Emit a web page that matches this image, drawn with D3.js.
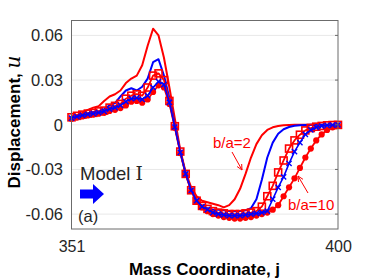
<!DOCTYPE html>
<html>
<head>
<meta charset="utf-8">
<script src="https://cdn.jsdelivr.net/npm/d3@7"></script>
<style>
  body { margin: 0; background: #fff; }
  svg { display: block; font-family: "Liberation Sans", Arial, sans-serif; }
</style>
</head>
<body>
<svg id="chart" width="374" height="280"></svg>
<script>
// mass coordinate j
const massJ = d3.range(351, 401);

// displacement u for each series
const ba2Solid = [0.0055,0.0065,0.008,0.010,0.0115,0.0125,0.016,0.019,0.0205,0.023,
  0.028,0.031,0.033,0.040,0.053,0.0645,0.060,0.045,0.025,0.004,
  -0.017,-0.032,-0.042,-0.048,-0.051,-0.052,-0.053,-0.054,-0.0555,-0.054,
  -0.050,-0.043,-0.033,-0.022,-0.013,-0.007,-0.0035,-0.0017,-0.0008,-0.0003,
  -0.0001,0,0,0,0,0,0,0,0,0];
const blueSolid = [0.005,0.0058,0.0068,0.0078,0.0085,0.009,0.0105,0.013,0.0145,0.019,
  0.023,0.0245,0.023,0.0255,0.031,0.042,0.044,0.033,0.018,0.0,
  -0.018,-0.033,-0.044,-0.051,-0.0545,-0.056,-0.057,-0.057,-0.0575,-0.058,
  -0.058,-0.058,-0.0575,-0.056,-0.050,-0.037,-0.022,-0.012,-0.006,-0.003,
  -0.0015,-0.0007,-0.0003,-0.0001,0,0,0,0,0,0];
const redSquares = [0.005,0.006,0.0068,0.0075,0.008,0.009,0.0095,0.0115,0.0127,0.014,
  0.0175,0.0195,0.0205,0.0195,0.025,0.033,0.0345,0.030,0.016,-0.001,
  -0.018,-0.033,-0.044,-0.051,-0.0545,-0.0565,-0.058,-0.059,-0.0595,-0.060,
  -0.060,-0.060,-0.0595,-0.059,-0.058,-0.055,-0.048,-0.041,-0.032,-0.024,
  -0.016,-0.0105,-0.0067,-0.0038,-0.0022,-0.0013,-0.0008,-0.0004,-0.0002,-0.0001];
const blueCross = [0.0045,0.0055,0.0063,0.007,0.0075,0.0082,0.009,0.0105,0.0115,0.013,
  0.0155,0.0175,0.018,0.017,0.0195,0.025,0.029,0.027,0.015,-0.0015,
  -0.0185,-0.033,-0.044,-0.051,-0.055,-0.057,-0.059,-0.060,-0.0605,-0.061,
  -0.061,-0.061,-0.0605,-0.060,-0.0595,-0.059,-0.058,-0.050,-0.042,-0.035,
  -0.026,-0.018,-0.012,-0.0065,-0.0035,-0.0018,-0.0009,-0.0004,-0.0002,-0.0001];
const ba10Circles = [0.004,0.0048,0.0056,0.0062,0.0068,0.0074,0.008,0.0093,0.010,0.0112,
  0.013,0.0155,0.016,0.0148,0.017,0.022,0.0265,0.025,0.014,-0.002,
  -0.019,-0.0335,-0.0445,-0.0515,-0.0555,-0.058,-0.060,-0.061,-0.062,-0.0625,
  -0.063,-0.063,-0.0625,-0.062,-0.061,-0.060,-0.059,-0.057,-0.054,-0.048,
  -0.042,-0.036,-0.029,-0.022,-0.016,-0.0105,-0.0065,-0.0035,-0.0017,-0.0006];

const yTicks = [-0.06,-0.03,0,0.03,0.06];
const yTickLabels = ["-0.06","-0.03","0","0.03","0.06"];
const xTicks = [351,400];

const chart = d3.select("#chart");
const margin = {left:71.5, right:36, top:20.5, bottom:51};
const width = 374, height = 280;

let x = d3.scaleLinear().domain([351,400]).range([margin.left, width - margin.right]);
let y = d3.scaleLinear().domain([-0.07,0.07]).range([height - margin.bottom, margin.top]);

// grid
chart.append("g").selectAll("line").data(yTicks).enter().append("line")
  .attr("x1", x(351)).attr("x2", x(400))
  .attr("y1", d => y(d)).attr("y2", d => y(d))
  .attr("stroke", "#e8e8e8").attr("stroke-width", 1);

const series = [
  {vals: ba2Solid, color: "red", w: 2},
  {vals: blueSolid, color: "blue", w: 2},
  {vals: ba10Circles, color: "red", w: 1.8, mark: "circle"},
  {vals: redSquares, color: "red", w: 1.8, mark: "square"},
  {vals: blueCross, color: "blue", w: 1.6, mark: "cross"}
];

const line = d3.line().x((d,i) => x(massJ[i])).y(d => y(d));
const plot = chart.append("g");

series.forEach(s => {
  plot.append("path").datum(s.vals)
    .attr("d", line).attr("fill", "none")
    .attr("stroke", s.color).attr("stroke-width", s.w).attr("stroke-linejoin", "round");
  if (s.mark === "circle") {
    plot.append("g").selectAll("circle").data(s.vals).enter().append("circle")
      .attr("cx", (d,i) => x(massJ[i])).attr("cy", d => y(d)).attr("r", 3.1)
      .attr("fill", s.color);
  } else if (s.mark === "square") {
    plot.append("g").selectAll("rect").data(s.vals).enter().append("rect")
      .attr("x", (d,i) => x(massJ[i]) - 3.5).attr("y", d => y(d) - 3.5)
      .attr("width", 7).attr("height", 7)
      .attr("fill", "none").attr("stroke", s.color).attr("stroke-width", 1.6);
  } else if (s.mark === "cross") {
    plot.append("g").selectAll("path").data(s.vals).enter().append("path")
      .attr("d", (d,i) => {
        let cx = x(massJ[i]), cy = y(d), r = 2.6;
        return `M${cx-r},${cy-r}L${cx+r},${cy+r}M${cx-r},${cy+r}L${cx+r},${cy-r}`;
      })
      .attr("stroke", s.color).attr("stroke-width", 1.4).attr("fill", "none");
  }
});

// box
const axisColor = "#6b6b6b";
chart.append("rect")
  .attr("x", x(351)).attr("y", y(0.07))
  .attr("width", x(400) - x(351)).attr("height", y(-0.07) - y(0.07))
  .attr("fill", "none").attr("stroke", axisColor).attr("stroke-width", 1);

// right inward ticks
chart.append("g").selectAll("line").data(yTicks).enter().append("line")
  .attr("x1", x(400) - 3).attr("x2", x(400))
  .attr("y1", d => y(d)).attr("y2", d => y(d))
  .attr("stroke", axisColor);

// y axis
let yAxis = d3.axisLeft(y).tickValues(yTicks)
  .tickFormat((d,i) => yTickLabels[i]).tickSize(0).tickPadding(8.5);
let yg = chart.append("g").attr("transform", `translate(${x(351)},0)`).call(yAxis);
yg.select(".domain").remove();
yg.selectAll("text").style("font-size", "16.5px").attr("fill", "#262626");

// x axis
let xAxis = d3.axisBottom(x).tickValues(xTicks).tickFormat(d3.format("d")).tickSize(0);
let xg = chart.append("g").attr("transform", `translate(0,${y(-0.07)})`).call(xAxis);
xg.select(".domain").remove();
xg.selectAll("text").attr("y", 23).attr("dy", 0)
  .style("font-size", "16px").attr("fill", "#262626");

// axis labels
chart.append("text")
  .attr("x", 204.5).attr("y", 275)
  .attr("text-anchor", "middle")
  .style("font-weight", "bold").style("font-size", "17px")
  .text("Mass Coordinate, j");

let yl = chart.append("text")
  .attr("transform", "rotate(-90)")
  .attr("x", -122).attr("y", 20)
  .attr("text-anchor", "middle")
  .style("font-weight", "bold").style("font-size", "17px");
yl.append("tspan").text("Displacement, ");
yl.append("tspan").text("u")
  .style("font-family", "'DejaVu Serif', serif").style("font-style", "italic")
  .style("font-weight", "normal").style("font-size", "20px");

// annotations
const red = "red";
chart.append("text").attr("x", 213).attr("y", 148)
  .attr("fill", red).style("font-size", "15px").text("b/a=2");
chart.append("text").attr("x", 288).attr("y", 210)
  .attr("fill", red).style("font-size", "15px").text("b/a=10");

const arrowHead = (x1, y1, x2, y2) => {
  let a = Math.atan2(y2 - y1, x2 - x1), L = 6, s = 0.45;
  return `M${x1},${y1}L${x2},${y2}` +
    `M${x2 - L*Math.cos(a - s)},${y2 - L*Math.sin(a - s)}L${x2},${y2}` +
    `L${x2 - L*Math.cos(a + s)},${y2 - L*Math.sin(a + s)}`;
};
chart.append("path").attr("d", arrowHead(232, 152, 242, 170))
  .attr("stroke", red).attr("stroke-width", 1).attr("fill", "none");
chart.append("path").attr("d", arrowHead(308, 193, 298, 176))
  .attr("stroke", red).attr("stroke-width", 1).attr("fill", "none");

let model = chart.append("text").attr("x", 80).attr("y", 180)
  .style("font-size", "18.5px").attr("fill", "#262626");
model.append("tspan").text("Model ");
model.append("tspan").style("font-family", "'DejaVu Serif', serif").text("I");

chart.append("polygon")
  .attr("points", "80,189.5 93,189.5 93,184 104,194 93,204 93,198.5 80,198.5")
  .attr("fill", "blue");

chart.append("text").attr("x", 78).attr("y", 222)
  .style("font-size", "16.5px").attr("fill", "#262626").text("(a)");
</script>
</body>
</html>
